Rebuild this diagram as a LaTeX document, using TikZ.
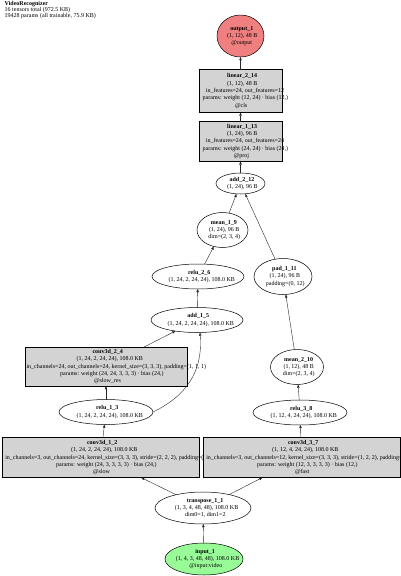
\documentclass[tikz,border=0pt]{standalone}
\usepackage{fontspec}
\setmainfont{Liberation Serif}
\usetikzlibrary{shapes.geometric,arrows.meta}
\definecolor{boxgray}{HTML}{D3D3D3}
\definecolor{outred}{HTML}{F08080}
\definecolor{ingreen}{HTML}{98FB98}
\newlength\gvw
\newcommand\gl[1]{\setbox0\hbox{#1}\gvw=0.885\wd0\relax\makebox[\gvw][l]{#1}}
\tikzset{
  shp/.style={draw=black, line width=0.5pt, inner sep=0pt, outer sep=0pt},
  ell/.style={shp, ellipse, fill=white},
  boxn/.style={shp, rectangle, fill=boxgray},
  txt/.style={font=\fontsize{6pt}{7.3pt}\selectfont, align=center, inner sep=0pt},
  arr/.style={draw=black!85, line width=0.4pt, -{Triangle[length=3.2pt,width=2.4pt]}},
}
\begin{document}
\begin{tikzpicture}[x=1pt,y=-1pt]
\useasboundingbox (0,0) rectangle (400,576);
\fill[white] (0,0) rectangle (400,576);
\node[anchor=north west, font=\fontsize{6pt}{6pt}\selectfont, align=left, inner sep=0pt] (title) at (4.5,1.5) {\textbf{VideoRecognizer}\\16 tensors total (972.5 KB)\\19428 params (all trainable, 75.9 KB)};

% output
\node[ell, fill=outred, minimum width=47pt, minimum height=42pt] (o1) at (240.5,36) {};
\node[txt] (o1t) at (o1) {\gl{\textbf{output\_1}}\\\gl{(1, 12), 48 B}\\\gl{@output}};

\node[boxn, minimum width=83pt, minimum height=43pt] (l214) at (240.5,91) {};
\node[txt] (l214t) at (l214) {\gl{\textbf{linear\_2\_14}}\\\gl{(1, 12), 48 B}\\\gl{in\_features=24, out\_features=12}\\\gl{params: weight (12, 24) · bias (12,)}\\\gl{@cls}};

\node[boxn, minimum width=83pt, minimum height=40pt] (l113) at (240.5,141.5) {};
\node[txt] (l113t) at (l113) {\gl{\textbf{linear\_1\_13}}\\\gl{(1, 24), 96 B}\\\gl{in\_features=24, out\_features=24}\\\gl{params: weight (24, 24) · bias (24,)}\\\gl{@proj}};

\node[ell, minimum width=49pt, minimum height=21pt] (a212) at (240.5,183.5) {};
\node[txt] (a212t) at (a212) {\gl{\textbf{add\_2\_12}}\\\gl{(1, 24), 96 B}};

\node[ell, minimum width=51pt, minimum height=35pt] (m19) at (222.5,230) {};
\node[txt] (m19t) at (m19) {\gl{\textbf{mean\_1\_9}}\\\gl{(1, 24), 96 B}\\\gl{dim=(2, 3, 4)}};

\node[ell, minimum width=92pt, minimum height=25pt] (r26) at (198,276.5) {};
\node[txt] (r26t) at (r26) {\gl{\textbf{relu\_2\_6}}\\\gl{(1, 24, 2, 24, 24), 108.0 KB}};

\node[ell, minimum width=58pt, minimum height=36pt] (p111) at (283,276.5) {};
\node[txt] (p111t) at (p111) {\gl{\textbf{pad\_1\_11}}\\\gl{(1, 24), 96 B}\\\gl{padding=(0, 12)}};

\node[ell, minimum width=92pt, minimum height=25pt] (a15) at (197,320) {};
\node[txt] (a15t) at (a15) {\gl{\textbf{add\_1\_5}}\\\gl{(1, 24, 2, 24, 24), 108.0 KB}};

\node[boxn, minimum width=162pt, minimum height=39pt] (c24) at (106,366.5) {};
\node[txt] (c24t) at (c24) {\gl{\textbf{conv3d\_2\_4}}\\\gl{(1, 24, 2, 24, 24), 108.0 KB}\\\gl{in\_channels=24, out\_channels=24, kernel\_size=(3, 3, 3), padding=(1, 1, 1)}\\\gl{params: weight (24, 24, 3, 3, 3) · bias (24,)}\\\gl{@slow\_res}};

\node[ell, minimum width=53pt, minimum height=35pt] (m210) at (297,367) {};
\node[txt] (m210t) at (m210) {\gl{\textbf{mean\_2\_10}}\\\gl{(1, 12), 48 B}\\\gl{dim=(2, 3, 4)}};

\node[ell, minimum width=94pt, minimum height=25pt] (r13) at (106,412) {};
\node[txt] (r13t) at (r13) {\gl{\textbf{relu\_1\_3}}\\\gl{(1, 24, 2, 24, 24), 108.0 KB}};

\node[ell, minimum width=94pt, minimum height=25pt] (r38) at (300,412.5) {};
\node[txt] (r38t) at (r38) {\gl{\textbf{relu\_3\_8}}\\\gl{(1, 12, 4, 24, 24), 108.0 KB}};

\node[boxn, minimum width=197pt, minimum height=40pt] (c12) at (100.5,457.5) {};
\node[txt] (c12t) at (c12) {\gl{\textbf{conv3d\_1\_2}}\\\gl{(1, 24, 2, 24, 24), 108.0 KB}\\\gl{in\_channels=3, out\_channels=24, kernel\_size=(3, 3, 3), stride=(2, 2, 2), padding=(1, 1, 1)}\\\gl{params: weight (24, 3, 3, 3, 3) · bias (24,)}\\\gl{@slow}};

\node[boxn, minimum width=197pt, minimum height=40pt] (c37) at (301.5,457.5) {};
\node[txt] (c37t) at (c37) {\gl{\textbf{conv3d\_3\_7}}\\\gl{(1, 12, 4, 24, 24), 108.0 KB}\\\gl{in\_channels=3, out\_channels=12, kernel\_size=(3, 3, 3), stride=(1, 2, 2), padding=(1, 1, 1)}\\\gl{params: weight (12, 3, 3, 3, 3) · bias (12,)}\\\gl{@fast}};

\node[ell, minimum width=96pt, minimum height=32pt] (tr1) at (203,508) {};
\node[txt] (tr1t) at (tr1) {\gl{\textbf{transpose\_1\_1}}\\\gl{(1, 3, 4, 48, 48), 108.0 KB}\\\gl{dim0=1, dim1=2}};

\node[ell, fill=ingreen, minimum width=78pt, minimum height=32pt] (in1) at (204,559) {};
\node[txt] (in1t) at (in1) {\gl{\textbf{input\_1}}\\\gl{(1, 4, 3, 48, 48), 108.0 KB}\\\gl{@input:video}};

% edges
\draw[arr] (in1) -- (tr1);
\draw[arr] (tr1) -- (c12);
\draw[arr] (tr1) -- (c37);
\draw[arr] (c12) -- (r13);
\draw[arr] (c37) -- (r38);
\draw[arr] (r13) -- (c24);
\draw[arr] (c24) -- (a15);
\draw[arr] (r13.east) .. controls (186,396) and (203,372) .. ([xshift=3pt]a15.south);
\draw[arr] (a15) -- (r26);
\draw[arr] (r26) -- (m19);
\draw[arr] (m19) -- (a212);
\draw[arr] (r38) -- (m210);
\draw[arr] (m210) -- (p111);
\draw[arr] (p111) -- (a212);
\draw[arr] (a212) -- (l113);
\draw[arr] (l113) -- (l214);
\draw[arr] (l214) -- (o1);
\end{tikzpicture}
\end{document}
